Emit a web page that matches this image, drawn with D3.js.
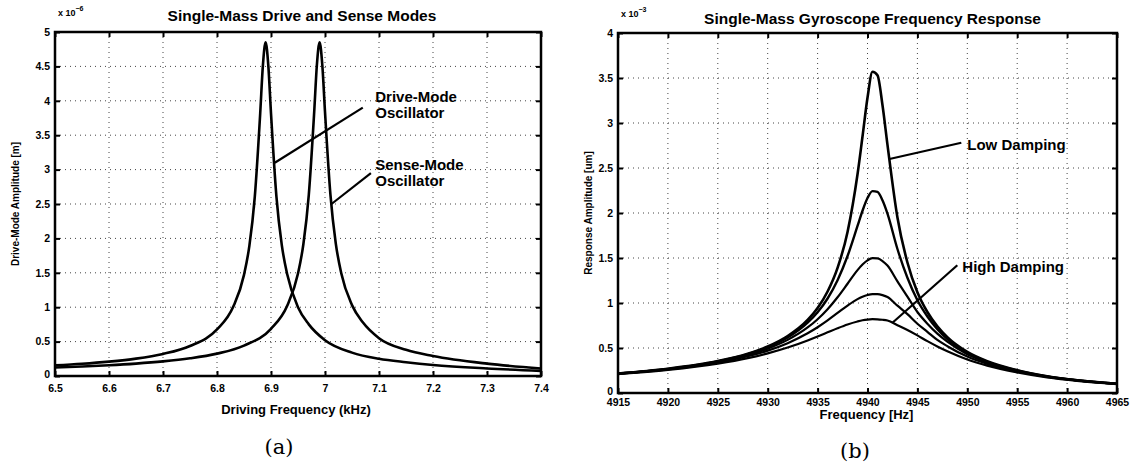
<!DOCTYPE html>
<html>
<head>
<meta charset="utf-8">
<script src="https://cdn.jsdelivr.net/npm/d3@7"></script>
<style>
  body { margin: 0; background: #fff; }
  svg text { font-family: "Liberation Sans", Arial, sans-serif; font-weight: bold; fill: #000; }
</style>
</head>
<body>
<svg id="chart" width="1135" height="468"></svg>
<script>
"use strict";

//// panel (a) data: drive / sense mode amplitude (x 10^-6 m) vs driving frequency (kHz)
const driveFreq = [6.5, 6.55, 6.6, 6.65, 6.7, 6.75, 6.8, 6.83, 6.85, 6.86, 6.87, 6.88, 6.885, 6.89,
    6.895, 6.9, 6.91, 6.92, 6.93, 6.95, 6.97, 7.0, 7.05, 7.1, 7.15, 7.2, 7.3, 7.4];
const driveAmp = [0.154, 0.177, 0.209, 0.253, 0.321, 0.436, 0.676, 1.005, 1.47, 1.895, 2.606, 3.816, 4.516, 4.85,
    4.516, 3.818, 2.612, 1.902, 1.478, 1.0, 0.75, 0.52, 0.34, 0.25, 0.2, 0.16, 0.11, 0.075];
const senseFreq = [6.5, 6.55, 6.6, 6.65, 6.7, 6.75, 6.8, 6.85, 6.9, 6.93, 6.95, 6.96, 6.97, 6.98, 6.985, 6.99,
    6.995, 7.0, 7.01, 7.02, 7.03, 7.05, 7.07, 7.1, 7.15, 7.2, 7.3, 7.4];
const senseAmp = [0.123, 0.138, 0.156, 0.18, 0.212, 0.257, 0.325, 0.442, 0.686, 1.02, 1.489, 1.918, 2.634, 3.837, 4.524, 4.85,
    4.52, 3.84, 2.64, 1.925, 1.497, 1.03, 0.78, 0.55, 0.38, 0.29, 0.18, 0.11];
const leftXTicks = [6.5, 6.6, 6.7, 6.8, 6.9, 7.0, 7.1, 7.2, 7.3, 7.4];
const leftYTicks = [0, 0.5, 1, 1.5, 2, 2.5, 3, 3.5, 4, 4.5, 5];

//// panel (b) data: response amplitude for five damping levels vs frequency (Hz)
const gyroFreq = [4915, 4920, 4925, 4928, 4930, 4932, 4934, 4935, 4936, 4937, 4938, 4939, 4939.5, 4940, 4940.5,
    4941, 4941.5, 4942, 4943, 4944, 4945, 4946, 4947, 4948, 4950, 4952, 4955, 4958, 4961, 4965];
const ampLowDamping = [0.217, 0.269, 0.354, 0.436, 0.516, 0.632, 0.811, 0.944, 1.128, 1.39, 1.79, 2.43, 2.85, 3.28, 3.57,
    3.53, 3.2, 2.76, 1.95, 1.45, 1.12, 0.9, 0.74, 0.62, 0.456, 0.352, 0.252, 0.186, 0.142, 0.103];
const ampDamping2 = [0.216, 0.268, 0.351, 0.431, 0.508, 0.616, 0.781, 0.897, 1.05, 1.253, 1.522, 1.856, 2.025, 2.166, 2.243,
    2.234, 2.141, 1.993, 1.6, 1.28, 1.03, 0.85, 0.71, 0.6, 0.447, 0.347, 0.25, 0.185, 0.142, 0.103];
const ampDamping3 = [0.215, 0.265, 0.346, 0.422, 0.493, 0.59, 0.728, 0.82, 0.931, 1.064, 1.214, 1.365, 1.427, 1.474, 1.498,
    1.495, 1.466, 1.416, 1.24, 1.07, 0.9, 0.77, 0.66, 0.57, 0.43, 0.338, 0.245, 0.183, 0.141, 0.102];
const ampDamping4 = [0.213, 0.262, 0.338, 0.408, 0.471, 0.554, 0.664, 0.731, 0.807, 0.889, 0.971, 1.043, 1.07, 1.089, 1.099,
    1.098, 1.087, 1.066, 0.97, 0.876, 0.77, 0.68, 0.59, 0.52, 0.405, 0.324, 0.239, 0.179, 0.139, 0.101];
const ampHighDamping = [0.21, 0.256, 0.326, 0.387, 0.44, 0.505, 0.584, 0.628, 0.674, 0.72, 0.762, 0.795, 0.808, 0.816, 0.82,
    0.819, 0.814, 0.805, 0.753, 0.7, 0.64, 0.576, 0.517, 0.464, 0.373, 0.304, 0.229, 0.174, 0.135, 0.0995];
const rightXTicks = [4915, 4920, 4925, 4930, 4935, 4940, 4945, 4950, 4955, 4960, 4965];
const rightYTicks = [0, 0.5, 1, 1.5, 2, 2.5, 3, 3.5, 4];

const svg = d3.select("#chart");

//// draws one MATLAB style panel
function drawPanel(cfg) {
    const x = d3.scaleLinear().domain(cfg.xDomain).range([cfg.left, cfg.right]);
    const y = d3.scaleLinear().domain(cfg.yDomain).range([cfg.bottom, cfg.top]);
    const g = svg.append("g");

    // dotted grid
    g.append("g").selectAll("line")
        .data(cfg.xTicks.slice(1, -1))
        .enter().append("line")
            .attr("x1", d => x(d)).attr("x2", d => x(d))
            .attr("y1", cfg.top).attr("y2", cfg.bottom)
            .attr("stroke", "#444").attr("stroke-width", 1)
            .attr("stroke-dasharray", "1,4");
    g.append("g").selectAll("line")
        .data(cfg.yTicks.slice(1, -1))
        .enter().append("line")
            .attr("x1", cfg.left).attr("x2", cfg.right)
            .attr("y1", d => y(d)).attr("y2", d => y(d))
            .attr("stroke", "#444").attr("stroke-width", 1)
            .attr("stroke-dasharray", "1,4");

    // axes with inward ticks
    const fmt = d3.format("~g");
    const axes = [
        [d3.axisBottom(x).tickValues(cfg.xTicks).tickFormat(fmt).tickPadding(cfg.xTickPad), "translate(0," + cfg.bottom + ")"],
        [d3.axisTop(x).tickValues(cfg.xTicks).tickFormat(""), "translate(0," + cfg.top + ")"],
        [d3.axisLeft(y).tickValues(cfg.yTicks).tickFormat(fmt).tickPadding(5), "translate(" + cfg.left + ",0)"],
        [d3.axisRight(y).tickValues(cfg.yTicks).tickFormat(""), "translate(" + cfg.right + ",0)"]
    ];
    axes.forEach(function(a) {
        g.append("g")
            .attr("transform", a[1])
            .call(a[0].tickSize(-5))
            .call(ax => ax.select(".domain").remove())
            .call(ax => ax.selectAll(".tick line").attr("stroke", "#000").attr("stroke-width", 2))
            .call(ax => ax.selectAll(".tick text")
                .style("font-size", "10.5px").style("font-weight", "bold")
                .style("font-family", "'Liberation Sans', Arial, sans-serif"));
    });
    // lift the "0" of the y axis a little, as in the original
    g.selectAll(".tick text").filter(d => d === cfg.yDomain[0] && cfg.yTicks.indexOf(d) === 0)
        .filter(function() { return this.getAttribute("x") !== null && +this.getAttribute("x") < 0; })
        .attr("dy", "0.1em");

    // frame
    g.append("rect")
        .attr("x", cfg.left).attr("y", cfg.top)
        .attr("width", cfg.right - cfg.left).attr("height", cfg.bottom - cfg.top)
        .attr("fill", "none").attr("stroke", "#000").attr("stroke-width", 2.5);

    // curves
    const line = d3.line()
        .x(d => x(d[0]))
        .y(d => y(d[1]))
        .curve(d3.curveMonotoneX);
    cfg.series.forEach(function(s) {
        g.append("path")
            .datum(d3.zip(s.freq, s.amp))
            .attr("d", line)
            .attr("fill", "none")
            .attr("stroke", "#000")
            .attr("stroke-width", s.width)
            .attr("stroke-linejoin", "round");
    });

    // texts
    g.append("text")
        .attr("x", (cfg.left + cfg.right) / 2 + cfg.titleDx).attr("y", cfg.titleY)
        .attr("text-anchor", "middle").style("font-size", "15.5px")
        .text(cfg.title);
    g.append("text")
        .attr("x", (cfg.left + cfg.right) / 2 + cfg.xLabelDx).attr("y", cfg.xLabelY)
        .attr("text-anchor", "middle").style("font-size", "13px")
        .text(cfg.xLabel);
    g.append("text")
        .attr("transform", "translate(" + cfg.yLabelX + "," + (cfg.top + cfg.bottom) / 2 + ") rotate(-90)")
        .attr("text-anchor", "middle").style("font-size", "10px")
        .text(cfg.yLabel);
    const expo = g.append("text")
        .attr("x", cfg.left + 3).attr("y", cfg.top - 16)
        .style("font-size", "9px");
    expo.append("tspan").text("x 10");
    expo.append("tspan").attr("dy", -5).style("font-size", "7px").text(cfg.exponent);
    g.append("text")
        .attr("x", cfg.captionX).attr("y", cfg.captionY)
        .attr("text-anchor", "middle")
        .style("font-family", "'DejaVu Serif', 'Liberation Serif', serif")
        .style("font-weight", "normal").style("font-size", "21px")
        .text(cfg.caption);

    // annotations (positions in data units)
    cfg.notes.forEach(function(n) {
        g.append("line")
            .attr("x1", x(n.from[0])).attr("y1", y(n.from[1]))
            .attr("x2", x(n.to[0])).attr("y2", y(n.to[1]))
            .attr("stroke", "#000").attr("stroke-width", 2.2);
        const t = g.append("text")
            .attr("x", x(n.at[0])).attr("y", y(n.at[1]))
            .style("font-size", "15px");
        n.lines.forEach(function(l, i) {
            t.append("tspan").attr("x", x(n.at[0])).attr("dy", i ? 16 : 0).text(l);
        });
    });
}

drawPanel({
    left: 55, right: 541, top: 32, bottom: 376,
    xDomain: [6.5, 7.4], yDomain: [0, 5],
    xTicks: leftXTicks, yTicks: leftYTicks, xTickPad: 9,
    title: "Single-Mass Drive and Sense Modes", titleY: 21, titleDx: 4,
    xLabel: "Driving Frequency (kHz)", xLabelY: 414, xLabelDx: -2,
    yLabel: "Drive-Mode Amplitude [m]", yLabelX: 19,
    exponent: "\u22126",
    caption: "(a)", captionX: 279, captionY: 454,
    series: [
        { freq: driveFreq, amp: driveAmp, width: 2.6 },
        { freq: senseFreq, amp: senseAmp, width: 2.6 }
    ],
    notes: [
        { at: [7.093, 3.98], lines: ["Drive-Mode", "Oscillator"], from: [7.07, 3.9], to: [6.907, 3.1] },
        { at: [7.093, 3.0], lines: ["Sense-Mode", "Oscillator"], from: [7.085, 2.95], to: [7.012, 2.5] }
    ]
});

drawPanel({
    left: 618, right: 1117, top: 33, bottom: 393,
    xDomain: [4915, 4965], yDomain: [0, 4],
    xTicks: rightXTicks, yTicks: rightYTicks, xTickPad: 6,
    title: "Single-Mass Gyroscope Frequency Response", titleY: 24, titleDx: 5,
    xLabel: "Frequency [Hz]", xLabelY: 419, xLabelDx: -1,
    yLabel: "Response Amplitude [um]", yLabelX: 592,
    exponent: "\u22123",
    caption: "(b)", captionX: 855, captionY: 458,
    series: [
        { freq: gyroFreq, amp: ampLowDamping, width: 2.6 },
        { freq: gyroFreq, amp: ampDamping2, width: 2.4 },
        { freq: gyroFreq, amp: ampDamping3, width: 2.2 },
        { freq: gyroFreq, amp: ampDamping4, width: 2.2 },
        { freq: gyroFreq, amp: ampHighDamping, width: 2.2 }
    ],
    notes: [
        { at: [4950.0, 2.7], lines: ["Low Damping"], from: [4949.4, 2.78], to: [4942.2, 2.6] },
        { at: [4949.5, 1.35], lines: ["High Damping"], from: [4949.0, 1.42], to: [4942.5, 0.78] }
    ]
});
</script>
</body>
</html>
